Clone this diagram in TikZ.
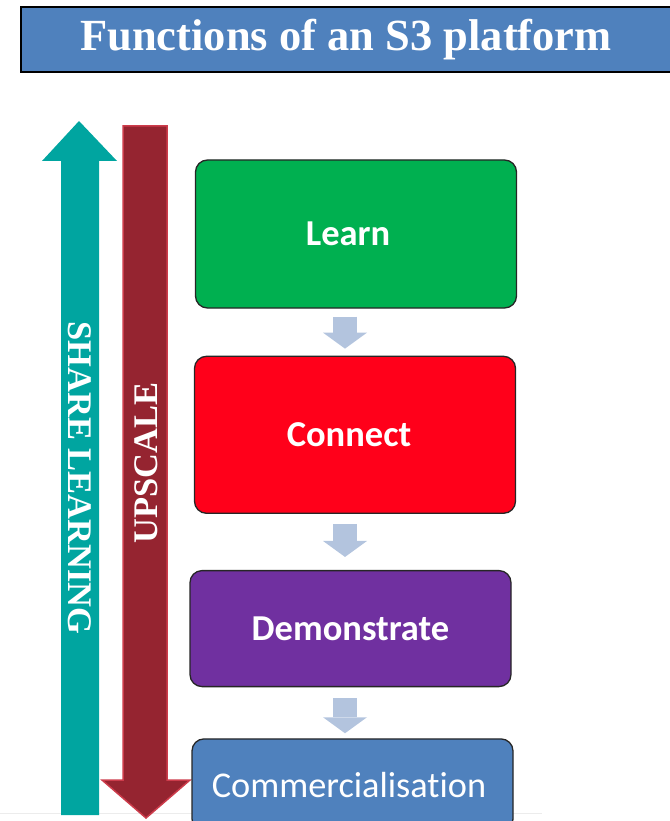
\documentclass[tikz,border=0pt]{standalone}
\usepackage{fontspec}
\setmainfont{Liberation Serif}
\newfontfamily\boxfont[Ligatures=NoCommon]{Carlito}
\usepackage{tikz}
\usetikzlibrary{arrows.meta,positioning,calc}
\definecolor{titleblue}{RGB}{79,129,189}
\definecolor{col1}{RGB}{0,176,80}
\definecolor{col2}{RGB}{255,0,26}
\definecolor{col3}{RGB}{112,48,160}
\definecolor{col4}{RGB}{79,129,189}
\definecolor{c5}{RGB}{179,196,222}
\definecolor{c6}{RGB}{0,165,160}
\definecolor{c7}{RGB}{149,36,48}
\definecolor{c7edge}{RGB}{205,60,75}

\begin{document}
\begin{tikzpicture}[x=1pt, y=-1pt, line width=1.3pt]
\tikzstyle{stage}=[rectangle, rounded corners=12pt, draw=black!85, text=white, minimum width=321pt, font=\boxfont\bfseries\fontsize{36.5}{40}\selectfont]
\tikzstyle{flow}=[line width=24pt, c5, -{Triangle[width=44pt,length=16pt,line width=0pt]}]
\tikzstyle{vlabel}=[text=white, font=\bfseries\fontsize{34.5}{38}\selectfont]
\useasboundingbox (0,0) rectangle (669,821);
\draw[gray!15, line width=1pt] (0,813) -- (542,813);

% title
\node[rectangle, draw=black, line width=2pt, fill=titleblue, text=white, minimum width=650pt, minimum height=65pt,
      font=\bfseries\fontsize{44.5}{48}\selectfont] (title) at (346,39.5) {Functions of an S3 platform};

% side arrows
\fill[c6] (61,815) -- (61,161) -- (42,161) -- (79,121) -- (117,161) -- (99,161) -- (99,815) -- cycle;
\filldraw[fill=c7, draw=c7edge, line width=1.5pt] (123,126) -- (167,126) -- (167,780) -- (190,780) -- (146,818) -- (102,780) -- (123,780) -- cycle;
\node[vlabel, rotate=-90] (share) at (80,478) {SHARE LEARNING};
\node[vlabel, rotate=90] (upscale) at (146,463) {UPSCALE};

% stages
\node[stage, fill=col1, minimum height=148pt] (learn) at (356,234) {Learn\hspace*{16pt}};
\node[stage, fill=col2, minimum height=157pt] (connect) [below=47pt of learn, xshift=-1pt] {Connect\hspace*{12pt}};
\node[stage, fill=col3, minimum height=116pt] (demo) [below=56pt of connect, xshift=-4.5pt] {Demonstrate};
\node[stage, fill=col4, minimum height=92pt, font=\boxfont\fontsize{36.3}{40}\selectfont] (comm) [below=51pt of demo, xshift=2pt] {Commercialisation\hspace*{7pt}};

\coordinate (spine) at (345,0);
\draw[flow, shorten <=8pt, shorten >=7pt] (learn.south -| spine) -- (connect.north -| spine);
\draw[flow, shorten <=10pt, shorten >=13pt] (connect.south -| spine) -- (demo.north -| spine);
\draw[flow, shorten <=11pt, shorten >=5pt] (demo.south -| spine) -- (comm.north -| spine);
\end{tikzpicture}
\end{document}
